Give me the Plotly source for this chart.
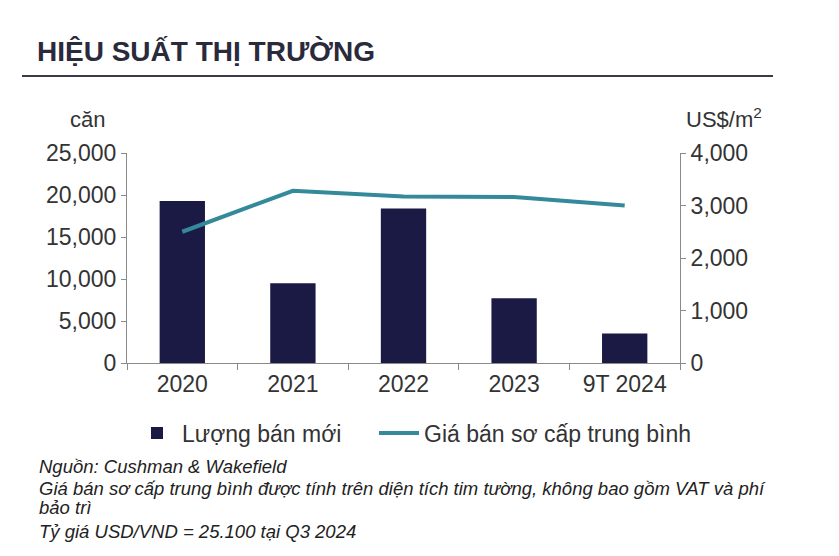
import plotly.graph_objects as go
from plotly.subplots import make_subplots

# data
years = ['2020', '2021', '2022', '2023', '9T 2024']
new_sales = [19300, 9500, 18400, 7700, 3500]        # căn
primary_price = [2500, 3280, 3170, 3160, 3000]       # US$/m2

title = 'HIỆU SUẤT THỊ TRƯỜNG'
notes = [
    'Nguồn: Cushman & Wakefield',
    'Giá bán sơ cấp trung bình được tính trên diện tích tim tường, không bao gồm VAT và phí',
    'bảo trì',
    'Tỷ giá USD/VND = 25.100 tại Q3 2024',
]

font = 'Liberation Sans, Arial, sans-serif'
axis_col = '#8a8a8a'
txt_col = '#333333'

# plot area in page pixels (page body has an 8px margin)
X0, X1, Y0, Y1 = 127, 680, 153, 363
OFF = 8


def px(x):
    return (x - X0) / (X1 - X0)


def py(y):
    return (Y1 - y) / (Y1 - Y0)


fig = make_subplots(specs=[[{"secondary_y": True}]])

fig.add_trace(
    go.Bar(x=years, y=new_sales, name='Lượng bán mới', legend='legend',
           marker=dict(color='#1b1a45', line=dict(width=0)), width=0.41),
    secondary_y=False
)
fig.add_trace(
    go.Scatter(x=years, y=primary_price, name='Giá bán sơ cấp trung bình', legend='legend2',
               mode='lines', line=dict(color='#34899b', width=4)),
    secondary_y=True
)

fig.update_xaxes(domain=[0, 1], showline=True, linecolor=axis_col, linewidth=1,
                 ticks='outside', tickson='boundaries', tickcolor=axis_col, ticklen=6,
                 tickfont=dict(size=23, color=txt_col), showgrid=False)
fig.update_yaxes(range=[0, 25000], dtick=5000, tickformat=',', showgrid=False,
                 showline=True, linecolor=axis_col, ticks='outside', tickcolor=axis_col,
                 ticklen=5, tickfont=dict(size=23, color=txt_col), zeroline=False,
                 secondary_y=False)
fig.update_yaxes(range=[0, 4000], dtick=1000, tickformat=',', showgrid=False,
                 showline=True, linecolor=axis_col, ticks='outside', tickcolor=axis_col,
                 ticklen=5, tickfont=dict(size=23, color=txt_col), zeroline=False,
                 secondary_y=True)

annotations = [
    dict(text='<b>' + title + '</b>', x=px(35), y=py(52), xref='paper', yref='paper',
         xanchor='left', yanchor='middle', showarrow=False,
         font=dict(size=28, color='#2a2a3c', family=font)),
    dict(text='căn', x=px(68), y=py(120), xref='paper', yref='paper', xanchor='left',
         yanchor='middle', showarrow=False, font=dict(size=22, color=txt_col, family=font)),
    dict(text='US$/m<sup>2</sup>', x=px(684), y=py(118), xref='paper', yref='paper',
         xanchor='left', yanchor='middle', showarrow=False,
         font=dict(size=22, color=txt_col, family=font)),
]
note_y = [466, 488, 507, 531]
for t, y in zip(notes, note_y):
    annotations.append(dict(text='<i>' + t + '</i>', x=px(37), y=py(y), xref='paper',
                            yref='paper', xanchor='left', yanchor='middle', showarrow=False,
                            font=dict(size=18.5, color='#222222', family=font)))

leg = dict(orientation='h', xanchor='left', yanchor='middle', itemwidth=40,
           font=dict(size=23, color=txt_col), bgcolor='rgba(0,0,0,0)')

fig.update_layout(
    width=839 - OFF, height=556 - OFF,
    margin=dict(l=X0 - OFF, r=839 - X1, t=Y0 - OFF, b=556 - Y1),
    plot_bgcolor='white', paper_bgcolor='white',
    font=dict(family=font, color=txt_col),
    showlegend=True,
    legend=dict(leg, x=px(132), y=py(433)),
    legend2=dict(leg, x=px(374), y=py(433)),
    annotations=annotations,
    shapes=[dict(type='line', xref='paper', yref='paper',
                 x0=px(22), x1=px(773), y0=py(76), y1=py(76),
                 line=dict(color='#3a3a4a', width=2))],
)

fig.write_html("out.html")
